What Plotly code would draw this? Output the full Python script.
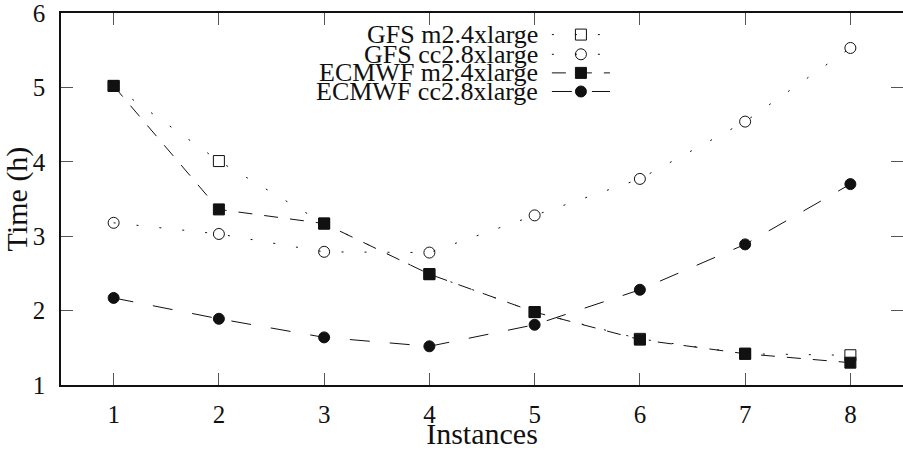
import plotly.graph_objects as go

# Run time (hours) per number of instances
instances = [1, 2, 3, 4, 5, 6, 7, 8]
gfs_m24 = [5.02, 4.01, 3.17, 2.49, 1.98, 1.62, 1.42, 1.40]
gfs_cc28 = [3.18, 3.03, 2.79, 2.78, 3.28, 3.77, 4.54, 5.53]
ecmwf_m24 = [5.02, 3.36, 3.17, 2.49, 1.98, 1.61, 1.42, 1.30]
ecmwf_cc28 = [2.17, 1.89, 1.64, 1.52, 1.81, 2.28, 2.89, 3.70]

series_names = ["GFS m2.4xlarge", "GFS cc2.8xlarge", "ECMWF m2.4xlarge", "ECMWF cc2.8xlarge"]
series_values = [gfs_m24, gfs_cc28, ecmwf_m24, ecmwf_cc28]

FONT = "Liberation Serif"
INK = "#111111"
TICK_INK = "#555555"

styles = [
    dict(dash="2px,21px", symbol="square-open"),
    dict(dash="2px,21px", symbol="circle-open"),
    dict(dash="14px,12px", symbol="square"),
    dict(dash="20px,20px", symbol="circle"),
]

fig = go.Figure()

for i, (name, vals, st) in enumerate(zip(series_names, series_values, styles)):
    fig.add_trace(go.Scatter(
        x=instances, y=vals, name=name, mode="lines+markers",
        # the last series lives on the right-hand twin axis so its ticks get drawn
        yaxis="y2" if i == len(series_names) - 1 else "y",
        line=dict(color=INK, width=1, dash=st["dash"]),
        marker=dict(symbol=st["symbol"], size=11, color=INK,
                    line=dict(color=INK, width=1)),
        showlegend=False,
    ))

# Key in the upper middle: label on the left, line sample with marker on the right
key_text_x = 0.569
key_line = (0.583, 0.652)
key_rows = [0.942, 0.889, 0.839, 0.789]
for name, st, ky in zip(series_names, styles, key_rows):
    fig.add_trace(go.Scatter(
        x=list(key_line), y=[ky, ky], mode="lines", xaxis="x2", yaxis="y3",
        line=dict(color=INK, width=1, dash=st["dash"]), showlegend=False,
        hoverinfo="skip",
    ))
    fig.add_trace(go.Scatter(
        x=[sum(key_line) / 2], y=[ky], mode="markers", xaxis="x2", yaxis="y3",
        marker=dict(symbol=st["symbol"], size=11, color=INK,
                    line=dict(color=INK, width=1)),
        showlegend=False, hoverinfo="skip",
    ))
    fig.add_annotation(
        x=key_text_x, y=ky, xref="paper", yref="paper", text=name,
        showarrow=False, xanchor="right", yanchor="middle",
        font=dict(family=FONT, size=26, color=INK),
    )

tick_font = dict(family=FONT, size=25, color=INK)
title_font = dict(family=FONT, size=30, color=INK)

fig.update_layout(
    width=903, height=450,
    margin=dict(l=61, r=0, t=7, b=62),
    paper_bgcolor="white", plot_bgcolor="white",
    xaxis=dict(
        range=[0.5, 8.5], tickvals=instances, ticks="inside", ticklen=12,
        tickwidth=1, tickcolor=TICK_INK, showline=True, linewidth=1.5,
        linecolor=INK, mirror="ticks", showgrid=False, zeroline=False,
        tickfont=tick_font, ticklabelstandoff=6,
        title=dict(text="Instances", font=title_font, standoff=1),
    ),
    yaxis=dict(
        range=[1, 6], dtick=1, ticks="inside", ticklen=12, tickwidth=1,
        tickcolor=TICK_INK, showline=True, linewidth=1.5, linecolor=INK,
        mirror=False, showgrid=False, zeroline=False, tickfont=tick_font,
        ticklabelstandoff=9, ticklabeloverflow="allow",
        title=dict(text="Time (h)", font=title_font, standoff=0),
    ),
    yaxis2=dict(
        overlaying="y", side="right", range=[1, 6], dtick=1, ticks="inside",
        ticklen=12, tickwidth=1, tickcolor=TICK_INK, showline=False,
        showticklabels=False, showgrid=False, zeroline=False,
    ),
    xaxis2=dict(overlaying="x", range=[0, 1], visible=False, anchor="y3"),
    yaxis3=dict(overlaying="y", range=[0, 1], visible=False, anchor="x2"),
)

fig.write_html("out.html")
